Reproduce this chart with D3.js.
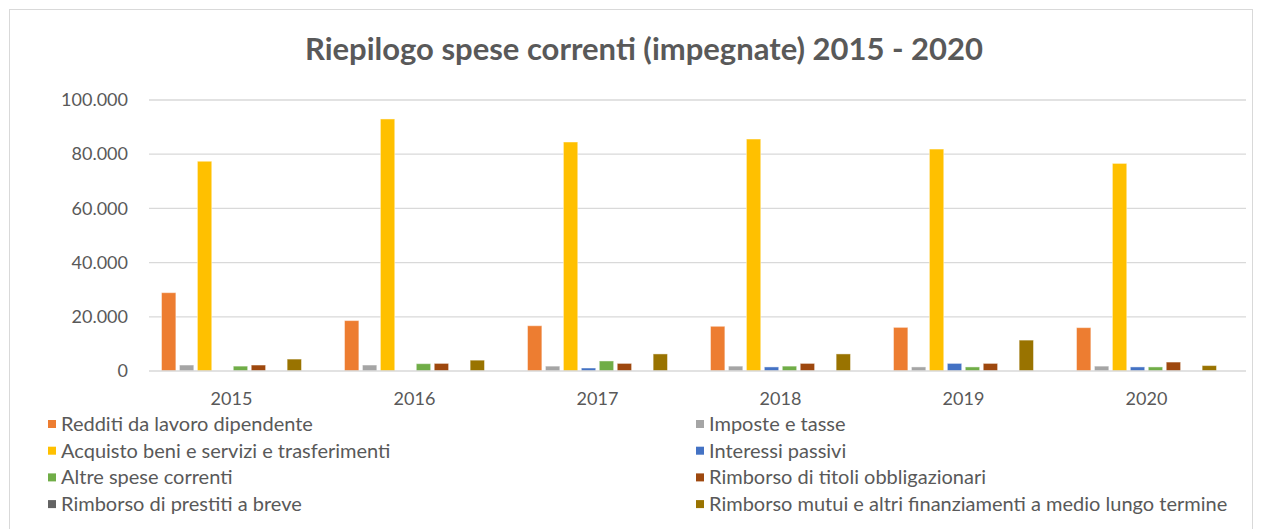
<!DOCTYPE html>
<html>
<head>
<meta charset="utf-8">
<script src="https://cdn.jsdelivr.net/npm/d3@7"></script>
<style>
  html, body { margin: 0; padding: 0; background: #fff; }
  svg { display: block; font-family: Lato, "Open Sans", sans-serif; }
</style>
</head>
<body>
<div id="chart"></div>
<script>
// Riepilogo spese correnti - grouped bar chart
const years = ['2015', '2016', '2017', '2018', '2019', '2020'];

const seriesNames = [
  'Redditi da lavoro dipendente',
  'Imposte e tasse',
  'Acquisto beni e servizi e trasferimenti',
  'Interessi passivi',
  'Altre spese correnti',
  'Rimborso di titoli obbligazionari',
  'Rimborso di prestiti a breve',
  'Rimborso mutui e altri finanziamenti a medio lungo termine'
];

const seriesColors = ['#ED7D31', '#A5A5A5', '#FFC000', '#4472C4', '#70AD47', '#9E480E', '#636363', '#997300'];

// values per series, one per year
const redditi   = [28900, 18600, 16700, 16500, 16100, 16000];
const imposte   = [2200, 2200, 1800, 1800, 1500, 1800];
const acquisto  = [77400, 93000, 84500, 85600, 81900, 76600];
const interessi = [0, 0, 1100, 1500, 2800, 1500];
const altre     = [1800, 2700, 3700, 1800, 1500, 1500];
const titoli    = [2200, 2800, 2800, 2800, 2800, 3300];
const prestiti  = [0, 0, 0, 0, 0, 0];
const mutui     = [4400, 4000, 6300, 6300, 11400, 2000];

const seriesValues = [redditi, imposte, acquisto, interessi, altre, titoli, prestiti, mutui];

const yTicks = [0, 20000, 40000, 60000, 80000, 100000];

(function() {
  'use strict';

  const W = 1261, H = 529;
  const textColor = '#595959';
  const gridColor = '#d9d9d9';

  const svg = d3.select('#chart').append('svg')
    .attr('width', W)
    .attr('height', H);

  // cornice
  svg.append('rect')
    .attr('x', 9.5).attr('y', 9.5)
    .attr('width', 1243).attr('height', 530)
    .attr('fill', '#fff')
    .attr('stroke', gridColor)
    .attr('stroke-width', 1);

  // titolo
  svg.append('text')
    .attr('x', 644)
    .attr('y', 60)
    .attr('text-anchor', 'middle')
    .attr('font-size', '31px')
    .attr('font-weight', 'bold')
    .attr('fill', textColor)
    .text('Riepilogo spese correnti (impegnate) 2015 - 2020');

  const y = d3.scaleLinear().domain([0, 100000]).range([371, 100]);

  const x0 = d3.scaleBand()
    .domain(years)
    .range([140, 1238])
    .paddingInner(0.235)
    .paddingOuter(0.1175);

  const x1 = d3.scaleBand()
    .domain(seriesNames)
    .range([0, x0.bandwidth()])
    .paddingInner(0.2);

  const it = d3.formatLocale({ decimal: ',', thousands: '.', grouping: [3], currency: ['', '€'] });
  const fmt = it.format(',.0f');

  // griglia
  svg.append('g')
    .selectAll('line')
    .data(yTicks.filter(d => d > 0))
    .enter()
    .append('line')
    .attr('x1', 149).attr('x2', 1246)
    .attr('y1', d => y(d)).attr('y2', d => y(d))
    .attr('stroke', gridColor)
    .attr('stroke-width', 1.3);

  // asse y (solo etichette)
  const yAxis = svg.append('g')
    .attr('transform', 'translate(128,0)')
    .call(d3.axisLeft(y).tickValues(yTicks).tickFormat(fmt).tickSize(0).tickPadding(0));
  yAxis.select('.domain').remove();
  yAxis.selectAll('text')
    .attr('fill', textColor)
    .attr('font-size', '18px')
    .attr('font-family', 'Lato, sans-serif');

  // barre
  const groups = svg.append('g')
    .selectAll('g')
    .data(years)
    .enter()
    .append('g')
    .attr('transform', d => `translate(${x0(d)},0)`);

  groups.selectAll('rect')
    .data((yr, i) => seriesNames.map((s, k) => ({ s: s, v: seriesValues[k][i], c: seriesColors[k] })))
    .enter()
    .filter(d => d.v > 0)
    .append('rect')
    .attr('x', d => x1(d.s))
    .attr('y', d => y(d.v))
    .attr('width', x1.bandwidth())
    .attr('height', d => y(0) - y(d.v))
    .attr('fill', d => d.c)
    .attr('stroke', '#fff')
    .attr('stroke-opacity', 0.45)
    .attr('stroke-width', 1);

  // asse x
  svg.append('line')
    .attr('x1', 149).attr('x2', 1246)
    .attr('y1', y(0)).attr('y2', y(0))
    .attr('stroke', gridColor)
    .attr('stroke-width', 1.5);

  svg.append('g')
    .selectAll('text')
    .data(years)
    .enter()
    .append('text')
    .attr('x', d => x0(d) + x0.bandwidth() / 2)
    .attr('y', 405)
    .attr('text-anchor', 'middle')
    .attr('font-size', '18px')
    .attr('fill', textColor)
    .text(d => d);

  // legenda su due colonne
  const legend = svg.append('g')
    .selectAll('g')
    .data(seriesNames)
    .enter()
    .append('g')
    .attr('transform', (d, i) => {
      const col = i % 2, row = Math.floor(i / 2);
      return `translate(${col ? 696 : 48},${424 + row * 26.7})`;
    });

  legend.append('rect')
    .attr('x', 0).attr('y', -4)
    .attr('width', 8).attr('height', 8)
    .attr('fill', (d, i) => seriesColors[i]);

  legend.append('text')
    .attr('x', 13)
    .attr('y', 7)
    .attr('font-size', '20px')
    .attr('fill', textColor)
    .text(d => d);
})();
</script>
</body>
</html>
